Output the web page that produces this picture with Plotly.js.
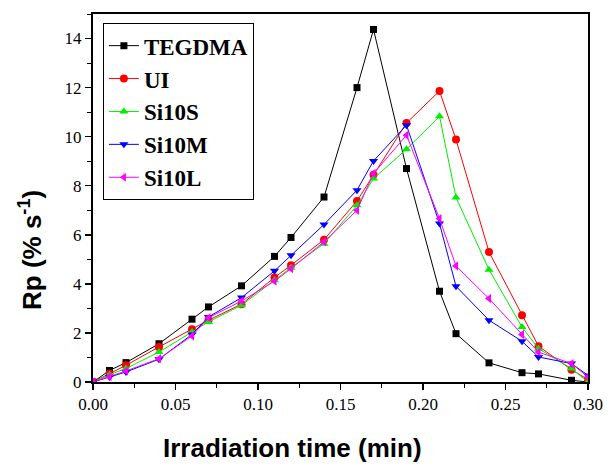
<!DOCTYPE html>
<html>
<head>
<meta charset="utf-8">
<script src="https://cdn.plot.ly/plotly-3.0.1.min.js"></script>
<style>html,body{margin:0;padding:0;background:#fff;}#chart{width:608px;height:464px;}</style>
</head>
<body>
<div id="chart"></div>
<script>
const time = [0, 0.01, 0.02, 0.04, 0.06, 0.07, 0.09, 0.11, 0.12, 0.14, 0.16, 0.17, 0.19, 0.21, 0.22, 0.24, 0.26, 0.27, 0.29, 0.30];
const seriesNames = ["TEGDMA", "UI", "Si10S", "Si10M", "Si10L"];
const tegdma = [0, 0.47, 0.79, 1.56, 2.56, 3.06, 3.92, 5.12, 5.89, 7.54, 12.0, 14.37, 8.70, 3.70, 1.97, 0.78, 0.38, 0.33, 0.07, 0.0];
const ui     = [0, 0.34, 0.68, 1.43, 2.15, 2.52, 3.17, 4.26, 4.76, 5.80, 7.38, 8.45, 10.56, 11.86, 9.88, 5.30, 2.72, 1.46, 0.50, 0.10];
const si10s  = [0, 0.30, 0.55, 1.22, 2.04, 2.45, 3.13, 4.15, 4.66, 5.64, 7.20, 8.29, 9.49, 10.83, 7.52, 4.58, 2.24, 1.36, 0.55, 0.0];
const si10m  = [0, 0.20, 0.41, 0.93, 1.94, 2.65, 3.44, 4.53, 5.17, 6.42, 7.82, 9.01, 10.47, 6.46, 3.90, 2.52, 1.66, 1.02, 0.75, 0.27];
const si10l  = [0, 0.22, 0.45, 0.95, 1.88, 2.62, 3.30, 4.11, 4.62, 5.71, 7.00, 8.50, 10.06, 6.66, 4.73, 3.40, 1.94, 1.22, 0.75, 0.20];
const xTickVals = [0, 0.05, 0.10, 0.15, 0.20, 0.25, 0.30];
const xTickText = ["0.00", "0.05", "0.10", "0.15", "0.20", "0.25", "0.30"];
const yTickVals = [0, 2, 4, 6, 8, 10, 12, 14];

const colors = ["#000000", "#ff0000", "#00ee00", "#0000ff", "#ff00ff"];
const symbols = ["square", "circle", "triangle-up", "triangle-down", "triangle-left"];
const allY = [tegdma, ui, si10s, si10m, si10l];

const traces = allY.map((ys, i) => ({
  x: time, y: ys, name: seriesNames[i], type: "scatter", mode: "lines+markers",
  line: {color: colors[i], width: 1},
  marker: {color: colors[i], symbol: symbols[i], size: i === 0 ? 7 : 8}
}));

const axisCommon = {
  showline: true, linecolor: "#000", linewidth: 2, mirror: true,
  ticks: "outside", ticklen: 6, tickwidth: 1.5, tickcolor: "#000",
  showgrid: false, zeroline: false,
  tickfont: {family: "Liberation Serif, Times New Roman, serif", size: 17, color: "#000"}
};

const layout = {
  width: 608, height: 464,
  margin: {l: 93, r: 20, t: 14, b: 82},
  paper_bgcolor: "#fff", plot_bgcolor: "#fff",
  showlegend: true,
  legend: {
    x: 0.02, y: 0.975, xanchor: "left", yanchor: "top",
    bgcolor: "#fff", bordercolor: "#000", borderwidth: 1,
    font: {family: "Liberation Serif, Times New Roman, serif", size: 23, color: "#000", weight: "bold"}
  },
  xaxis: Object.assign({}, axisCommon, {
    range: [0, 0.30], tickvals: xTickVals, ticktext: xTickText,
    minor: {dtick: 0.025, ticks: "outside", ticklen: 4, tickcolor: "#000", tickwidth: 1}
  }),
  yaxis: Object.assign({}, axisCommon, {
    range: [0, 15], tickvals: yTickVals,
    minor: {dtick: 1, ticks: "outside", ticklen: 4, tickcolor: "#000", tickwidth: 1}
  }),
  annotations: [
    {text: "<b>Irradiation time (min)</b>", xref: "paper", yref: "paper",
     x: (292 - 93) / 495, y: -(448 - 382) / 368, xanchor: "center", yanchor: "middle",
     showarrow: false, font: {family: "Liberation Sans, Arial, sans-serif", size: 26, color: "#000"}},
    {text: "<b>Rp (% s<sup>-1</sup>)</b>", xref: "paper", yref: "paper",
     x: -(93 - 30) / 495, y: (382 - 250) / 368, xanchor: "center", yanchor: "middle",
     textangle: -90, showarrow: false,
     font: {family: "Liberation Sans, Arial, sans-serif", size: 26, color: "#000"}}
  ]
};

Plotly.newPlot("chart", traces, layout, {displayModeBar: false, staticPlot: true});
</script>
</body>
</html>
